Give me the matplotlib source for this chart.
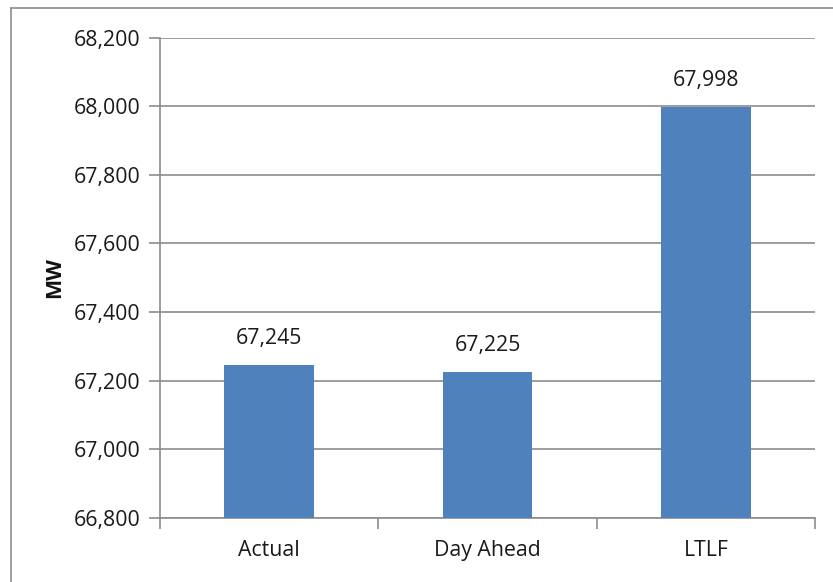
import matplotlib
matplotlib.use("Agg")
import matplotlib.pyplot as plt
from matplotlib.lines import Line2D

categories = ["Actual", "Day Ahead", "LTLF"]
values = [67245, 67225, 67998]
yticks = [66800, 67000, 67200, 67400, 67600, 67800, 68000, 68200]

plt.rcParams['font.family'] = ['Open Sans', 'DejaVu Sans']

fig = plt.figure(figsize=(8.33, 5.82), dpi=100)
ax = fig.add_axes([160/833, 1-517.7/582, (815-160)/833, (517.7-37.7)/582])

grid_c = '#8c8c8c'
txt_c = '#1a1a1a'
fs = 15.3
x = list(range(len(categories)))
ax.bar(x, [v - yticks[0] for v in values], bottom=yticks[0], width=0.41,
       color='#4f81bd', zorder=3)
for xi, v in zip(x, values):
    ax.text(xi, v + 48, f"{v:,}", ha='center', va='bottom', fontsize=fs, color=txt_c)

ax.set_xlim(-0.5, len(categories) - 0.5)
ax.set_ylim(yticks[0], yticks[-1])
ax.set_yticks(yticks)
ax.set_yticklabels([f"{t:,}" for t in yticks], fontsize=fs, color=txt_c)
ax.yaxis.grid(True, color=grid_c, linewidth=1.2, zorder=0)
ax.set_axisbelow(True)

ax.set_xticks([i - 0.5 for i in range(len(categories) + 1)])
ax.set_xticklabels([])
ax.set_xticks(x, minor=True)
ax.set_xticklabels(categories, minor=True, fontsize=fs, color=txt_c)
ax.tick_params(axis='x', which='minor', length=0, pad=16)
ax.tick_params(axis='x', which='major', length=8, color=grid_c, width=1.2)
ax.tick_params(axis='y', length=8, color=grid_c, width=1.2, pad=6)

for s in ['top', 'right']:
    ax.spines[s].set_visible(False)
for s in ['left', 'bottom']:
    ax.spines[s].set_color(grid_c)
    ax.spines[s].set_linewidth(1.2)

ax.set_ylabel("MW", fontsize=15.5, fontweight='bold', labelpad=6, color='#111111')

# figure border (left and top visible)
fig.add_artist(Line2D([11/833, 11/833], [0, 1-8/582], transform=fig.transFigure, color='#8c8c8c', lw=1.2))
fig.add_artist(Line2D([11/833, 1], [1-8/582, 1-8/582], transform=fig.transFigure, color='#8c8c8c', lw=1.2))

fig.savefig("out.png", dpi=100)
